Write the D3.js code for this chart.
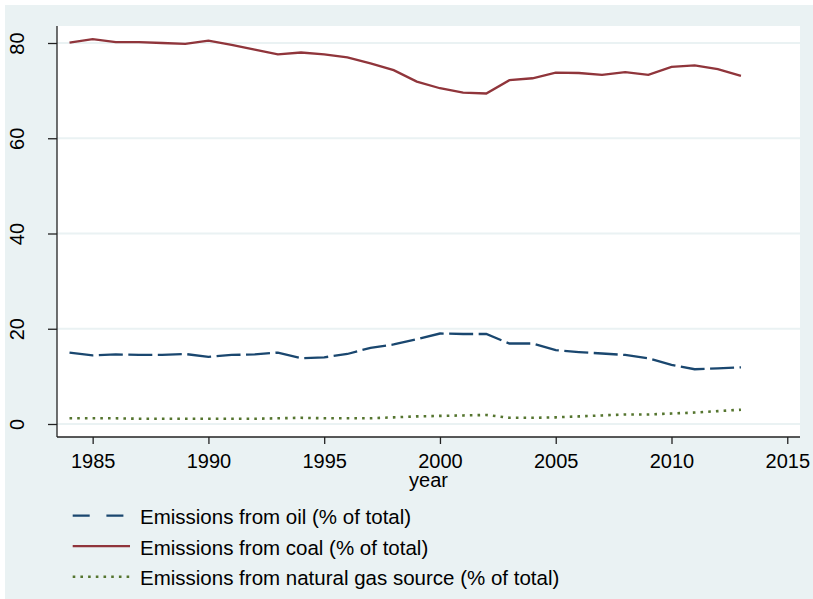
<!DOCTYPE html>
<html>
<head>
<meta charset="utf-8">
<script src="https://cdn.jsdelivr.net/npm/d3@7"></script>
<style>
  html, body { margin: 0; padding: 0; background: #ffffff; }
  svg { display: block; }
  text { font-family: "Liberation Sans", Arial, Helvetica, sans-serif; fill: #000; }
</style>
</head>
<body>
<svg id="chart" width="813" height="599"></svg>
<script>
// Share of CO2 emissions by fuel source, 1984–2013
const years = [1984, 1985, 1986, 1987, 1988, 1989, 1990, 1991, 1992, 1993,
               1994, 1995, 1996, 1997, 1998, 1999, 2000, 2001, 2002, 2003,
               2004, 2005, 2006, 2007, 2008, 2009, 2010, 2011, 2012, 2013];

const oil = [15.0, 14.4, 14.6, 14.5, 14.5, 14.7, 14.1, 14.5, 14.6, 15.0,
             13.8, 14.0, 14.7, 16.0, 16.7, 17.8, 19.0, 18.9, 18.9, 16.9,
             16.9, 15.5, 15.1, 14.8, 14.5, 13.8, 12.4, 11.5, 11.7, 11.9];

const coal = [80.1, 80.8, 80.2, 80.2, 80.0, 79.8, 80.5, 79.6, 78.6, 77.6,
              78.0, 77.6, 77.0, 75.7, 74.3, 71.9, 70.5, 69.6, 69.4, 72.2,
              72.6, 73.8, 73.7, 73.3, 73.9, 73.3, 75.0, 75.3, 74.5, 73.1];

const gas = [1.2, 1.2, 1.2, 1.1, 1.1, 1.1, 1.1, 1.1, 1.1, 1.2,
             1.3, 1.2, 1.2, 1.2, 1.4, 1.6, 1.7, 1.8, 1.9, 1.3,
             1.3, 1.4, 1.6, 1.8, 2.0, 2.0, 2.2, 2.4, 2.7, 3.0];

const yTicks = [0, 20, 40, 60, 80];
const xTicks = [1985, 1990, 1995, 2000, 2005, 2010, 2015];

const seriesLabels = [
  "Emissions from oil (% of total)",
  "Emissions from coal (% of total)",
  "Emissions from natural gas source (% of total)"
];

const svg = d3.select("#chart");
const W = 813, H = 599;
const plot = { left: 57, right: 800, top: 26, bottom: 437 };

const colors = { oil: "#1A476F", coal: "#90353B", gas: "#55752F", bg: "#EAF2F3" };

// graph region background
svg.append("rect").attr("x", 5).attr("y", 5).attr("width", W - 5).attr("height", H - 5)
  .attr("fill", colors.bg);

// plot region
svg.append("rect").attr("x", plot.left).attr("y", plot.top)
  .attr("width", plot.right - plot.left).attr("height", plot.bottom - plot.top)
  .attr("fill", "#ffffff");

const x = d3.scaleLinear().domain([1983.46, 2015.55]).range([plot.left, plot.right]);
const y = d3.scaleLinear().domain([-2.73, 83.57]).range([plot.bottom, plot.top]);

// horizontal grid lines
svg.append("g").selectAll("line").data(yTicks).join("line")
  .attr("x1", plot.left).attr("x2", plot.right)
  .attr("y1", d => y(d)).attr("y2", d => y(d))
  .attr("stroke", colors.bg).attr("stroke-width", 2);

// series lines
const line = d3.line().x((d, i) => x(years[i])).y(d => y(d));

svg.append("path").datum(gas).attr("d", line)
  .attr("fill", "none").attr("stroke", colors.gas).attr("stroke-width", 2.6)
  .attr("stroke-dasharray", "2.6 5.1");

svg.append("path").datum(oil).attr("d", line)
  .attr("fill", "none").attr("stroke", colors.oil).attr("stroke-width", 2.3)
  .attr("stroke-dasharray", "24 5.5");

svg.append("path").datum(coal).attr("d", line)
  .attr("fill", "none").attr("stroke", colors.coal).attr("stroke-width", 2.3);

// y axis
const yAxis = svg.append("g").attr("transform", `translate(${plot.left},0)`)
  .call(d3.axisLeft(y).tickValues(yTicks).tickSize(9).tickSizeOuter(0).tickFormat(d3.format("d")));
yAxis.select(".domain").attr("stroke", "#222").attr("stroke-width", 1.3)
  .attr("d", `M0,${plot.top}V${plot.bottom}`);
yAxis.selectAll(".tick line").attr("stroke", "#222").attr("stroke-width", 1.3);
yAxis.selectAll(".tick text")
  .attr("x", 0).attr("y", 0).attr("dy", 0)
  .attr("transform", `translate(${23.5 - plot.left},0) rotate(-90)`)
  .attr("text-anchor", "middle")
  .style("font-size", "20px").style("font-family", "'Liberation Sans', Arial, sans-serif")
  .attr("fill", "#000");

// x axis
const xAxis = svg.append("g").attr("transform", `translate(0,${plot.bottom})`)
  .call(d3.axisBottom(x).tickValues(xTicks).tickSize(7).tickSizeOuter(0).tickFormat(d3.format("d")));
xAxis.select(".domain").attr("stroke", "#222").attr("stroke-width", 1.3)
  .attr("d", `M${plot.left},0H${plot.right}`);
xAxis.selectAll(".tick line").attr("stroke", "#222").attr("stroke-width", 1.3);
xAxis.selectAll(".tick text")
  .attr("y", 31).attr("dy", 0)
  .style("font-size", "20px").style("font-family", "'Liberation Sans', Arial, sans-serif")
  .attr("fill", "#000");

// x axis title
svg.append("text").attr("x", (plot.left + plot.right) / 2).attr("y", 487)
  .attr("text-anchor", "middle").style("font-size", "20px").text("year");

// legend
const legendItems = [
  { label: seriesLabels[0], color: colors.oil, width: 2.3, dash: "17 16.7", x2: 125 },
  { label: seriesLabels[1], color: colors.coal, width: 2.3, dash: null, x2: 130 },
  { label: seriesLabels[2], color: colors.gas, width: 2.6, dash: "2.6 5.1", x2: 131 }
];
const legend = svg.append("g");
legendItems.forEach((it, i) => {
  const baseY = 524 + i * 30.5;
  const ly = baseY - 8.3;
  legend.append("line").attr("x1", 72.7).attr("x2", it.x2).attr("y1", ly).attr("y2", ly)
    .attr("stroke", it.color).attr("stroke-width", it.width)
    .attr("stroke-dasharray", it.dash);
  legend.append("text").attr("x", 140).attr("y", baseY)
    .style("font-size", "20.5px").text(it.label);
});
</script>
</body>
</html>
